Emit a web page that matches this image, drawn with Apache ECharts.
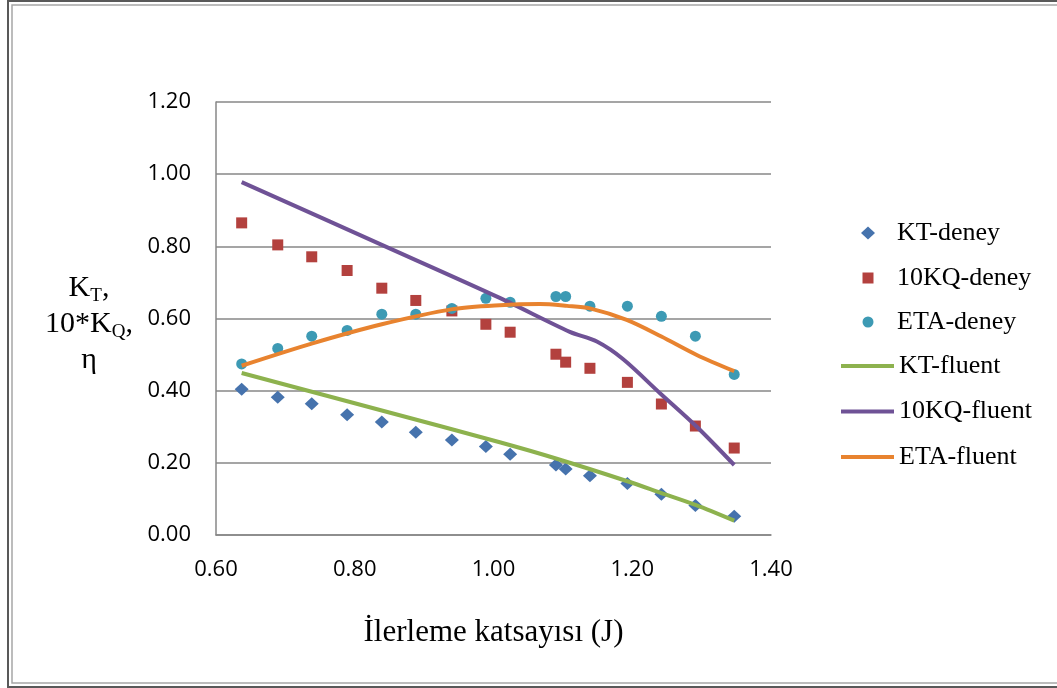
<!DOCTYPE html>
<html>
<head>
<meta charset="utf-8">
<style>
html, body {
  margin: 0;
  padding: 0;
  background-color: #FFF;
}
#chart {
  width: 1057px;
  height: 688px;
}
</style>
<script src="https://cdn.jsdelivr.net/npm/echarts@6/dist/echarts.min.js"></script>
</head>
<body>
<div id="chart"></div>
<script>
// ilerleme katsayisi (J) of the measured points
const jDeney = [0.637, 0.689, 0.738, 0.789, 0.839, 0.888, 0.940, 0.989, 1.024, 1.090, 1.104, 1.139, 1.193, 1.242, 1.291, 1.347]
const ktDeney = [0.404, 0.382, 0.364, 0.333, 0.313, 0.285, 0.263, 0.245, 0.224, 0.194, 0.183, 0.164, 0.143, 0.113, 0.082, 0.052]
const kqDeney = [0.865, 0.804, 0.771, 0.733, 0.684, 0.650, 0.621, 0.584, 0.562, 0.501, 0.479, 0.462, 0.423, 0.363, 0.302, 0.241]
const etaDeney = [0.474, 0.517, 0.551, 0.567, 0.612, 0.612, 0.628, 0.656, 0.645, 0.661, 0.661, 0.634, 0.634, 0.606, 0.551, 0.445]

// fluent curves
const jKtFluent = [0.637, 0.839, 1.009, 1.090, 1.193, 1.241, 1.292, 1.347]
const ktFluent = [0.449, 0.345, 0.257, 0.212, 0.149, 0.117, 0.083, 0.040]
const jKqFluent = [0.637, 0.839, 1.009, 1.110, 1.149, 1.187, 1.240, 1.293, 1.347]
const kqFluent = [0.978, 0.804, 0.657, 0.563, 0.536, 0.487, 0.393, 0.300, 0.194]
const jEtaFluent = [0.637, 0.739, 0.839, 0.941, 1.009, 1.067, 1.106, 1.139, 1.192, 1.242, 1.293, 1.347]
const etaFluent = [0.469, 0.531, 0.584, 0.626, 0.637, 0.640, 0.635, 0.628, 0.596, 0.550, 0.499, 0.454]

const xTicks = [0.6, 0.8, 1.0, 1.2, 1.4]
const yTicks = [0, 0.2, 0.4, 0.6, 0.8, 1.0, 1.2]

const serif = '"Liberation Serif", "Times New Roman", serif'
const sans = '"Open Sans", sans-serif'
const gridColor = '#878787'

const zip = (xs, ys) => xs.map((x, i) => [x, ys[i]])

const chart = echarts.init(document.getElementById('chart'))

const markerLegend = (name, icon, w, h, top) => ({
  orient: 'vertical',
  left: 863 - w / 2,
  top,
  itemWidth: w,
  itemHeight: h,
  data: [{ name, icon }],
  textStyle: {
    fontFamily: serif,
    fontSize: 26,
    lineHeight: 26,
    color: '#000',
    padding: [0, 0, 0, 892 - (863 - w / 2 + w + 5)]
  }
})

const option = {
  animation: false,
  backgroundColor: '#FFF',
  graphic: [
    {
      type: 'rect',
      shape: { x: 8, y: 1, width: 1070, height: 686 },
      style: { fill: 'none', stroke: '#595959', lineWidth: 2 }
    },
    {
      type: 'rect',
      shape: { x: 12, y: 5, width: 1070, height: 678 },
      style: { fill: 'none', stroke: '#A6A6A6', lineWidth: 1.5 }
    }
  ],
  title: {
    text: '{n|K}{s|T}{n|,}\n{n|10*K}{s|Q}{n|,}\n{n|η}',
    left: 84,
    top: 265,
    textAlign: 'center',
    textStyle: {
      rich: {
        n: { fontFamily: serif, fontSize: 30, lineHeight: 36, color: '#000', fontWeight: 'normal' },
        s: { fontFamily: serif, fontSize: 19, lineHeight: 36, color: '#000', fontWeight: 'normal', padding: [17, 0, 0, 0] }
      }
    }
  },
  legend: [
    markerLegend('KT-deney', 'diamond', 14, 13, 215),
    markerLegend('10KQ-deney', 'rect', 11, 11, 260),
    markerLegend('ETA-deney', 'circle', 11, 11, 304),
    {
      orient: 'vertical',
      left: 836,
      top: 348,
      itemWidth: 53,
      itemHeight: 4,
      itemGap: 19.5,
      data: [
        { name: 'KT-fluent', icon: 'rect' },
        { name: '10KQ-fluent', icon: 'rect' },
        { name: 'ETA-fluent', icon: 'rect' }
      ],
      textStyle: {
        fontFamily: serif,
        fontSize: 26,
        lineHeight: 26,
        color: '#000'
      }
    }
  ],
  grid: {
    left: 216,
    right: 286,
    top: 102,
    bottom: 153
  },
  xAxis: {
    type: 'value',
    min: xTicks[0],
    max: xTicks[xTicks.length - 1],
    interval: 0.2,
    name: 'İlerleme katsayısı (J)',
    nameLocation: 'middle',
    nameGap: 82,
    nameTextStyle: { fontFamily: serif, fontSize: 31, color: '#000' },
    axisLine: { lineStyle: { color: gridColor, width: 1.5 } },
    axisTick: { show: false },
    splitLine: { show: false },
    axisLabel: {
      margin: 24,
      fontFamily: sans,
      fontSize: 22,
      color: '#000',
      formatter: v => v.toFixed(2)
    }
  },
  yAxis: {
    type: 'value',
    min: yTicks[0],
    max: yTicks[yTicks.length - 1],
    interval: 0.2,
    axisLine: { show: true, lineStyle: { color: gridColor, width: 1.5 } },
    axisTick: { show: false },
    splitLine: { lineStyle: { color: gridColor, width: 1.5 } },
    axisLabel: {
      margin: 25,
      fontFamily: sans,
      fontSize: 22,
      color: '#000',
      formatter: v => v.toFixed(2)
    }
  },
  series: [
    {
      name: 'KT-deney',
      type: 'scatter',
      symbol: 'diamond',
      symbolSize: [14, 13],
      itemStyle: { color: '#4673AD', opacity: 1 },
      data: zip(jDeney, ktDeney)
    },
    {
      name: '10KQ-deney',
      type: 'scatter',
      symbol: 'rect',
      symbolSize: 11,
      itemStyle: { color: '#B3413E', opacity: 1 },
      data: zip(jDeney, kqDeney)
    },
    {
      name: 'ETA-deney',
      type: 'scatter',
      symbol: 'circle',
      symbolSize: 11,
      itemStyle: { color: '#3D9AB4', opacity: 1 },
      data: zip(jDeney, etaDeney)
    },
    {
      name: 'KT-fluent',
      type: 'line',
      smooth: 0.3,
      symbol: 'none',
      lineStyle: { color: '#8DB24E', width: 4 },
      itemStyle: { color: '#8DB24E' },
      data: zip(jKtFluent, ktFluent)
    },
    {
      name: '10KQ-fluent',
      type: 'line',
      smooth: 0.3,
      symbol: 'none',
      lineStyle: { color: '#6F5296', width: 4 },
      itemStyle: { color: '#6F5296' },
      data: zip(jKqFluent, kqFluent)
    },
    {
      name: 'ETA-fluent',
      type: 'line',
      smooth: 0.3,
      symbol: 'none',
      lineStyle: { color: '#E8832F', width: 4 },
      itemStyle: { color: '#E8832F' },
      data: zip(jEtaFluent, etaFluent)
    }
  ]
}

chart.setOption(option)
</script>
</body>
</html>
